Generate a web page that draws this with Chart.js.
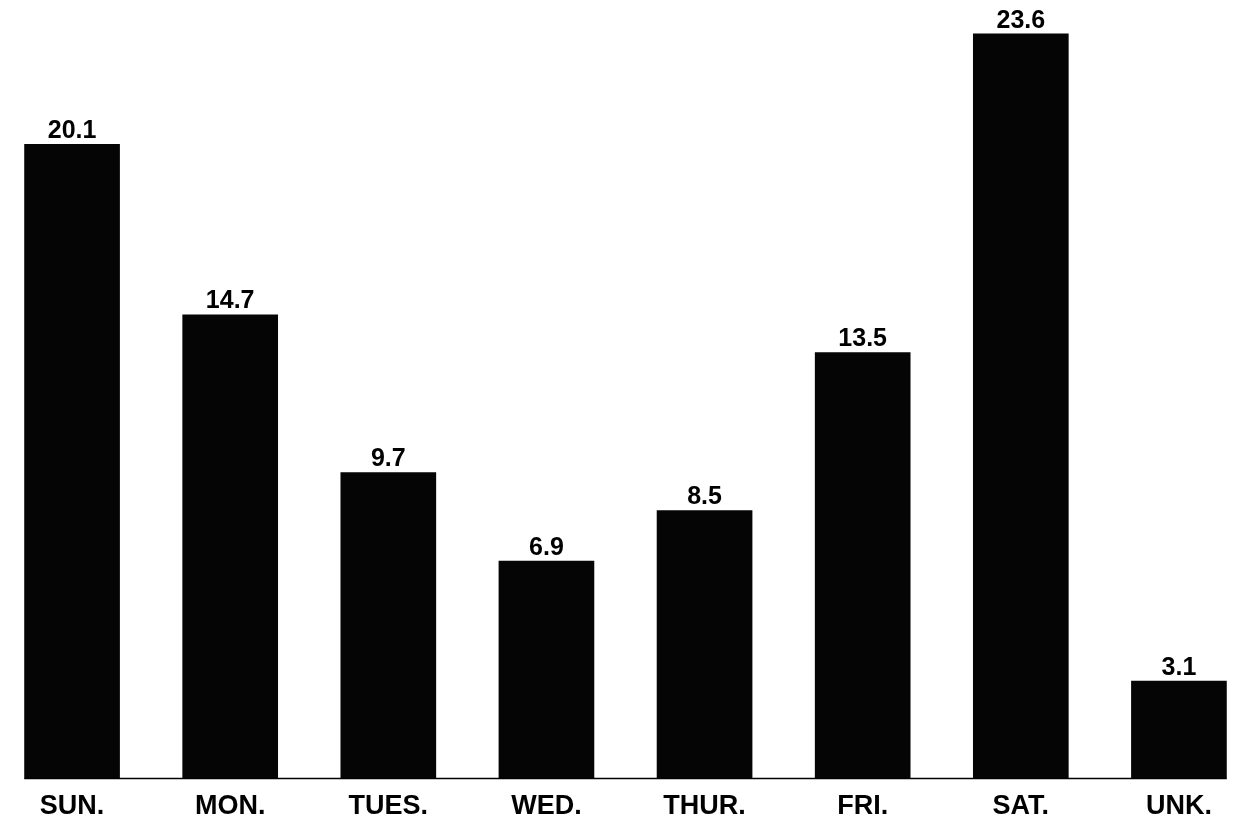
<!DOCTYPE html>
<html>
<head>
<meta charset="utf-8">
<title>Day of week</title>
<script src="https://cdn.jsdelivr.net/npm/chart.js@4/dist/chart.umd.min.js"></script>
<style>
    html, body { margin: 0; padding: 0; background: #fff; overflow: hidden; }
    /* the printed chart runs right to the page edges, so the canvas is a bit wider than the window */
    #wrap { position: absolute; left: -7px; top: 0; width: 1265px; height: 817px; }
</style>
</head>
<body>
<div id="wrap"><canvas id="chart"></canvas></div>
<script>
const days = ['SUN.', 'MON.', 'TUES.', 'WED.', 'THUR.', 'FRI.', 'SAT.', 'UNK.'];
const percents = [20.1, 14.7, 9.7, 6.9, 8.5, 13.5, 23.6, 3.1];
const valueLabels = ['20.1', '14.7', '9.7', '6.9', '8.5', '13.5', '23.6', '3.1'];

const FONT = "'Liberation Sans', Arial, Helvetica, sans-serif";

/**
 * Writes the value above each bar and draws the base line under the bars.
 */
const barExtras = {
    id: 'barExtras',
    afterDatasetsDraw(chart) {
        const ctx = chart.ctx;
        const bars = chart.getDatasetMeta(0).data;
        const zero = chart.scales.y.getPixelForValue(0);

        ctx.save();
        // base line, from the left of the first bar to the right of the last
        const first = bars[0], last = bars[bars.length - 1];
        ctx.strokeStyle = '#000';
        ctx.lineWidth = 1.5;
        ctx.beginPath();
        ctx.moveTo(first.x - first.width / 2, zero);
        ctx.lineTo(last.x + last.width / 2, zero);
        ctx.stroke();

        ctx.fillStyle = '#000';
        ctx.font = 'bold 25px ' + FONT;
        ctx.textAlign = 'center';
        ctx.textBaseline = 'alphabetic';
        bars.forEach((bar, i) => {
            ctx.fillText(valueLabels[i], bar.x, bar.y - 6);
        });
        ctx.restore();
    }
};

const config = {
    type: 'bar',
    data: {
        labels: days,
        datasets: [{
            data: percents,
            backgroundColor: '#050505',
            borderWidth: 0,
            categoryPercentage: 1.0,
            barPercentage: 0.605
        }]
    },
    options: {
        responsive: true,
        maintainAspectRatio: false,
        animation: false,
        layout: { padding: { top: 2, left: 0, right: 0, bottom: 0 } },
        plugins: {
            legend: { display: false },
            tooltip: { enabled: false }
        },
        scales: {
            x: {
                offset: true,
                grid: { display: false, drawTicks: false },
                border: { display: false },
                ticks: {
                    color: '#000',
                    padding: 12,
                    font: { family: FONT, size: 27, weight: 'bold' }
                },
                afterFit: (scale) => { scale.height = 38.5; }
            },
            y: {
                display: false,
                min: 0,
                max: 24.6
            }
        }
    },
    plugins: [barExtras]
};

new Chart(document.getElementById('chart').getContext('2d'), config);
</script>
</body>
</html>
